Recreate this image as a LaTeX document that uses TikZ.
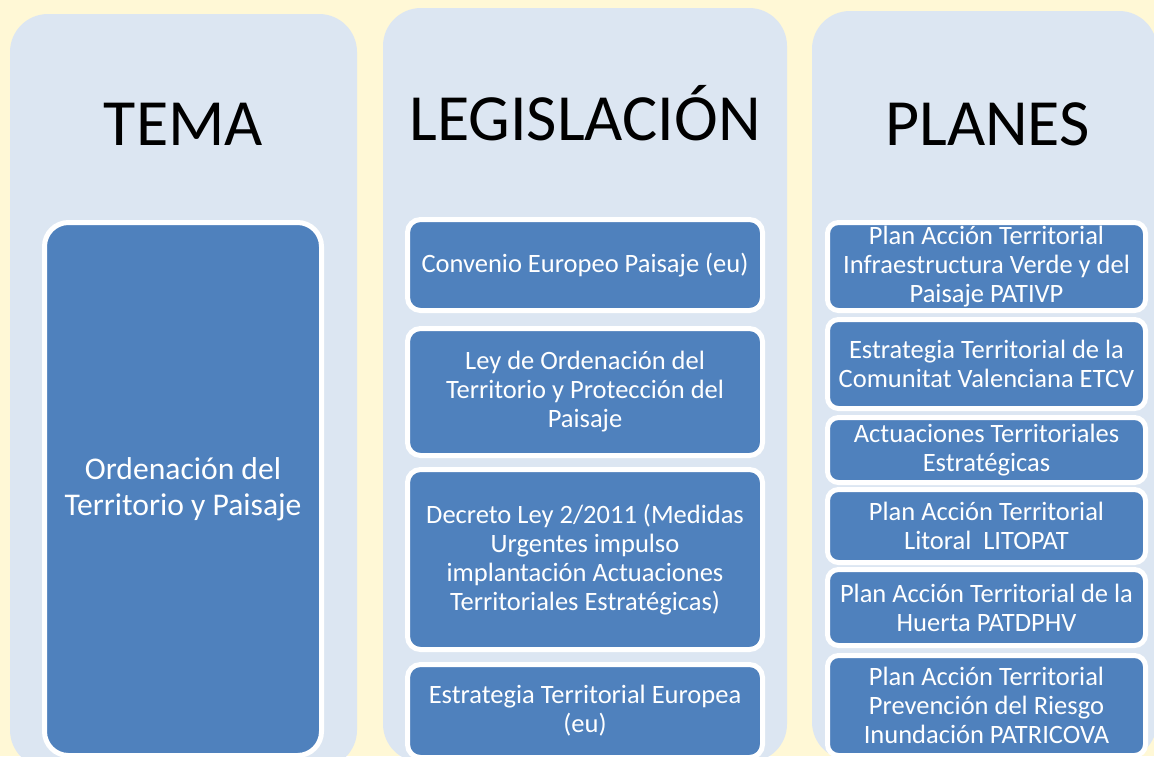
\documentclass[tikz,border=0pt]{standalone}
\usepackage{fontspec}
\setmainfont{Carlito}
\definecolor{bgyellow}{HTML}{FFF8D6}
\definecolor{panelblue}{HTML}{DCE6F2}
\definecolor{boxblue}{HTML}{4F81BD}
\tikzset{
  panel/.style={fill=panelblue, draw=none, rounded corners=38pt},
  header/.style={anchor=base, text=black, inner sep=0pt, font=\fontsize{66}{66}\selectfont},
  bluebox/.style={fill=boxblue, draw=white, line width=5pt, text=white, align=center,
    inner sep=0pt, outer sep=0pt, font=\fontsize{26.5}{29}\selectfont},
  midbox/.style={bluebox, minimum width=355pt, rounded corners=13pt},
  rightbox/.style={bluebox, minimum width=318pt, rounded corners=11pt},
  leftbox/.style={bluebox, minimum width=277pt, minimum height=533pt, rounded corners=24pt,
    font=\fontsize{31.6}{36}\selectfont}
}
\begin{document}
\begin{tikzpicture}[x=1pt, y=-1pt]
\useasboundingbox (0,0) rectangle (1154,756);
\clip (0,0) rectangle (1154,756);
\fill[bgyellow] (0,0) rectangle (1154,756);
% panels
\fill[panel] (10,14) rectangle (357,768);
\fill[panel] (383,8) rectangle (787,762);
\fill[panel] (812,11) rectangle (1157,760);
% headers
\node[header] (hTema) at (183.5,145) {TEMA};
\node[header] (hLeg) at (585,140) {LEGISLACIÓN};
\node[header] (hPlan) at (987.5,145) {PLANES};
% left
\node[leftbox] (tema) at (183,489) {Ordenación del\\Territorio y Paisaje};
% middle
\node[midbox, minimum height=91pt] (l1) at (585,265) {Convenio Europeo Paisaje (eu)};
\node[midbox, minimum height=127pt] (l2) at (585,392) {Ley de Ordenación del\\Territorio y Protección del\\Paisaje};
\node[midbox, minimum height=180pt] (l3) at (585,559.5) {Decreto Ley 2/2011 (Medidas\\Urgentes impulso\\implantación Actuaciones\\Territoriales Estratégicas)};
\node[midbox, minimum height=93pt] (l4) at (585,711) {Estrategia Territorial Europea\\(eu)};
% right
\node[rightbox, minimum height=88pt] (p1) at (986.5,266.5) {Plan Acción Territorial\\Infraestructura Verde y del\\Paisaje PATIVP};
\node[rightbox, minimum height=89pt] (p2) at (986.5,364) {Estrategia Territorial de la\\Comunitat Valenciana ETCV};
\node[rightbox, minimum height=65pt] (p3) at (986.5,450) {Actuaciones Territoriales\\Estratégicas};
\node[rightbox, minimum height=73pt] (p4) at (986.5,526) {Plan Acción Territorial\\Litoral~ LITOPAT};
\node[rightbox, minimum height=76pt] (p5) at (986.5,607.5) {Plan Acción Territorial de la\\Huerta PATDPHV};
\node[rightbox, minimum height=100pt] (p6) at (986.5,705.5) {Plan Acción Territorial\\Prevención del Riesgo\\Inundación PATRICOVA};
\end{tikzpicture}
\end{document}
